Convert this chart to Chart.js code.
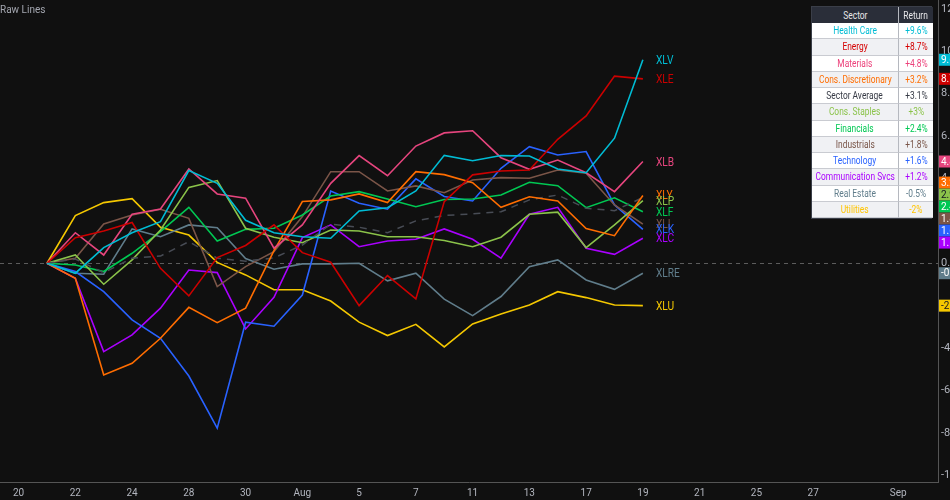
<!DOCTYPE html>
<html>
<head>
<meta charset="utf-8">
<title>Raw Lines</title>
<script src="https://cdn.jsdelivr.net/npm/chart.js@4.4.1/dist/chart.umd.min.js"></script>
<style>
  html, body { margin: 0; padding: 0; background: #101010; }
  #wrap { position: relative; width: 950px; height: 500px; overflow: hidden; background: #101010; }
  #chart { display: block; }
  #title { position: absolute; left: 0; top: 4px; font: 10px Roboto, sans-serif; color: #a3a6af; }
  #sectors {
    position: absolute; left: 811px; top: 6px; width: 121px;
    display: grid; grid-template-columns: 87px 34px; grid-template-rows: 16px repeat(12, 16.25px);
    font: 10px Roboto, sans-serif;
    border: 1px solid #3a3e48; box-sizing: border-box;
  }
  #sectors div { display: flex; align-items: center; justify-content: center; white-space: nowrap;
    border-bottom: 1px solid #c9cbd1; box-sizing: border-box; overflow: visible; }
  #sectors span { display: inline-block; transform: scaleX(0.84); }
  #sectors div.c1 { border-right: 1px solid #b5b8bf; }
  #sectors div.hd { background: #2a2e39; color: #e8e8ea; border-bottom: none; }
  #sectors div.odd { background: #ffffff; }
  #sectors div.even { background: #f0f1f4; }
</style>
</head>
<body>
<div id="wrap">
  <canvas id="chart" width="950" height="500"></canvas>
  <div id="title">Raw Lines</div>
  <div id="sectors"></div>
</div>
<script>
// trading-day index: Jul 20 2020 = 0 ... Aug 19 = 22, Sep 1 = 31
const tickDays = [0, 2, 4, 6, 8, 10, 12, 14, 16, 18, 20, 22, 24, 26, 28, 31];
const tickLabels = ['20', '22', '24', '28', '30', 'Aug', '5', '7', '11', '13', '17', '19', '21', '25', '27', 'Sep'];
const yTicks = [-10, -8, -6, -4, -2, 0, 2, 4, 6, 8, 10, 12];
const firstDay = 1; // Jul 21

// % change since Jul 21, one value per session up to Aug 19
const xlv  = [0, -0.47, 0.74, 1.44, 1.96, 4.37, 3.77, 2.03, 1.44, 1.25, 1.18, 2.47, 2.62, 3.41, 5.09, 4.84, 5.08, 5.06, 4.45, 4.27, 5.90, 9.6];
const xle  = [0, 1.21, 1.52, 1.92, -0.24, -1.54, 0.27, 0.84, 1.81, 0.50, 0.05, -2.0, -0.58, -1.68, 2.91, 4.17, 4.35, 4.40, 5.85, 6.95, 8.83, 8.7];
const xlb  = [0, 1.44, 0.39, 2.31, 2.56, 4.45, 3.27, 3.07, 0.71, 1.81, 3.77, 5.08, 4.13, 5.53, 6.15, 6.25, 4.98, 4.43, 4.87, 4.27, 3.38, 4.8];
const xly  = [0, -0.71, -5.27, -4.72, -3.54, -2.08, -2.80, -2.12, 0.6, 2.91, 2.99, 3.27, 2.86, 4.32, 4.18, 3.80, 2.64, 3.14, 2.94, 1.64, 1.30, 3.2];
const avg  = [0, 0.2, -0.45, 0.24, 0.34, 1.02, 0.24, 0.1, 0.25, 0.86, 1.84, 1.70, 1.44, 2.0, 2.25, 2.33, 2.43, 2.99, 3.22, 2.59, 2.48, 3.1];
const xlp  = [0, 0.39, -0.99, 0.16, 1.57, 3.58, 3.90, 1.65, 1.23, 0.97, 1.57, 1.52, 1.25, 1.25, 1.07, 0.78, 1.23, 2.31, 2.41, 0.74, 1.81, 2.95];
const xlf  = [0, -0.08, -0.39, 0.47, 1.49, 2.64, 1.05, 1.60, 1.65, 2.28, 3.17, 3.38, 3.03, 2.67, 3.01, 3.03, 3.22, 3.82, 3.66, 2.62, 3.09, 2.43];
const xli  = [0, 0.24, 1.85, 2.28, 2.55, 2.12, -1.10, -0.16, 0.55, 2.2, 4.32, 4.32, 3.41, 3.65, 3.33, 3.93, 4.04, 4.01, 4.40, 4.25, 2.75, 1.85];
const xlk  = [0, -0.39, -1.34, -2.67, -3.54, -5.32, -7.78, -2.78, -2.97, -1.50, 3.41, 2.83, 2.55, 3.98, 3.15, 2.94, 4.48, 5.50, 5.11, 5.27, 2.75, 1.6];
const xlc  = [0, -0.71, -4.17, -3.38, -2.12, -0.32, -0.44, -3.10, -1.61, 1.21, 1.81, 0.78, 1.05, 1.13, 1.62, 1.13, 0.24, 2.31, 2.64, 0.71, 0.42, 1.18];
const xlre = [0, -0.47, -0.52, 1.62, 1.25, 1.81, 1.68, 0.22, -0.28, -0.03, -0.03, 0, -0.83, -0.47, -1.69, -2.47, -1.57, -0.16, 0.16, -0.79, -1.23, -0.47];
const xlu  = [0, 2.25, 2.86, 3.05, 1.70, 1.33, 0.04, -0.55, -1.25, -1.25, -1.78, -2.78, -3.41, -2.88, -3.95, -2.86, -2.39, -1.97, -1.34, -1.62, -1.97, -2.0];

// table rows
const sectorNames = ['Health Care', 'Energy', 'Materials', 'Cons. Discretionary', 'Sector Average', 'Cons. Staples',
  'Financials', 'Industrials', 'Technology', 'Communication Svcs', 'Real Estate', 'Utilities'];
const sectorReturns = ['+9.6%', '+8.7%', '+4.8%', '+3.2%', '+3.1%', '+3%', '+2.4%', '+1.8%', '+1.6%', '+1.2%', '-0.5%', '-2%'];

const FONT = 'Roboto, sans-serif';
const COLORS = {
  XLV: '#00bcd4', XLE: '#cc0000', XLB: '#e6457e', XLY: '#ff6d00', AVG: '#484c55', XLP: '#8bc34a',
  XLF: '#00c853', XLI: '#7b5548', XLK: '#2962ff', XLC: '#aa00ff', XLRE: '#607d8b', XLU: '#f5c800'
};
const TABLE_TEXT = ['#00bcd4', '#d50000', '#ec407a', '#ff6d00', '#363a45', '#8bc34a',
  '#00c853', '#795548', '#2962ff', '#aa00ff', '#607d8b', '#ffc400'];

const series = [
  ['XLV', xlv], ['XLE', xle], ['XLB', xlb], ['XLY', xly], ['AVG', avg], ['XLP', xlp],
  ['XLF', xlf], ['XLI', xli], ['XLK', xlk], ['XLC', xlc], ['XLRE', xlre], ['XLU', xlu]
];

// --- table ---
const table = document.getElementById('sectors');
table.innerHTML = '<div class="hd c1"><span>Sector</span></div><div class="hd"><span>Return</span></div>' +
  sectorNames.map((n, i) => {
    const cls = i % 2 ? 'even' : 'odd';
    return `<div class="${cls} c1" style="color:${TABLE_TEXT[i]}"><span>${n}</span></div>` +
           `<div class="${cls}" style="color:${TABLE_TEXT[i]}"><span>${sectorReturns[i]}</span></div>`;
  }).join('');

// --- plugins ---
const zeroLine = {
  id: 'zeroLine',
  beforeDatasetsDraw(chart) {
    const { ctx, chartArea, scales } = chart;
    const y = Math.round(scales.y.getPixelForValue(0)) + 0.5;
    ctx.save();
    ctx.strokeStyle = '#5c5c5c';
    ctx.lineWidth = 1;
    ctx.setLineDash([4, 4]);
    ctx.beginPath();
    ctx.moveTo(chartArea.left, y);
    ctx.lineTo(chartArea.right, y);
    ctx.stroke();
    ctx.restore();
  }
};

// narrow text, the reference uses a condensed face
function narrowText(ctx, text, x, y, sx) {
  ctx.save();
  ctx.translate(x, y);
  ctx.scale(sx, 1);
  ctx.fillText(text, 0, 0);
  ctx.restore();
}

const endLabels = {
  id: 'endLabels',
  afterDatasetsDraw(chart) {
    const { ctx, scales } = chart;
    ctx.save();
    ctx.font = '12px ' + FONT;
    ctx.textBaseline = 'middle';
    chart.data.datasets.forEach(ds => {
      if (ds.label === 'AVG') return;
      const last = ds.data[ds.data.length - 1];
      ctx.fillStyle = ds.borderColor;
      narrowText(ctx, ds.label, scales.x.getPixelForValue(last.x) + 13, scales.y.getPixelForValue(last.y) + 1, 0.85);
    });
    ctx.restore();
  }
};

const priceTags = {
  id: 'priceTags',
  afterDraw(chart) {
    const { ctx, chartArea, scales, width } = chart;
    const h = 12;
    const tags = chart.data.datasets.filter(ds => ds.label !== 'AVG').map(ds => {
      const v = ds.data[ds.data.length - 1].y;
      return { v, color: ds.borderColor, dark: ds.label === 'XLU' || ds.label === 'XLP', y: scales.y.getPixelForValue(v) };
    }).sort((a, b) => a.y - b.y);
    // push overlapping tags apart, keeping each group centred
    const groups = tags.map(t => ({ items: [t], c: t.y }));
    let merged = true;
    while (merged) {
      merged = false;
      for (let i = 0; i < groups.length - 1; i++) {
        const a = groups[i], b = groups[i + 1];
        if (a.c + a.items.length * h / 2 > b.c - b.items.length * h / 2) {
          const items = a.items.concat(b.items);
          const c = items.reduce((s, t) => s + t.y, 0) / items.length;
          groups.splice(i, 2, { items, c });
          merged = true;
          break;
        }
      }
    }
    ctx.save();
    ctx.font = '10px ' + FONT;
    ctx.textBaseline = 'middle';
    groups.forEach(g => {
      const top = g.c - g.items.length * h / 2 - (g.items.length > 1 ? 4 : 0);
      g.items.forEach((t, k) => {
        const y0 = top + k * h;
        ctx.fillStyle = t.color;
        ctx.fillRect(chartArea.right + 1, y0, width - chartArea.right, h);
        ctx.fillStyle = t.dark ? '#131722' : '#ffffff';
        ctx.fillText(t.v.toFixed(2), chartArea.right + 3, y0 + h / 2 + 0.5);
      });
    });
    ctx.restore();
  }
};

const noEdgePadding = s => { s.paddingTop = 0; s.paddingBottom = 0; s.paddingLeft = 0; s.paddingRight = 0; };

// --- chart ---
new Chart(document.getElementById('chart'), {
  type: 'line',
  data: {
    datasets: series.map(([name, values]) => ({
      label: name,
      data: values.map((v, i) => ({ x: firstDay + i, y: v })),
      borderColor: COLORS[name],
      borderWidth: name === 'AVG' ? 1.5 : 1.6,
      borderDash: name === 'AVG' ? [7, 6] : [],
      pointRadius: 0,
      tension: 0,
      fill: false
    }))
  },
  options: {
    responsive: false,
    animation: false,
    devicePixelRatio: 1,
    layout: { padding: 0 },
    plugins: { legend: { display: false }, tooltip: { enabled: false } },
    scales: {
      x: {
        type: 'linear',
        min: -0.655,
        max: 32.4,
        afterBuildTicks: s => { s.ticks = tickDays.map(v => ({ value: v })); },
        afterFit: s => { s.height = 18; noEdgePadding(s); },
        ticks: {
          callback: (v, i) => tickLabels[i],
          color: '#b2b5be', font: { size: 10, family: FONT }, padding: 5,
          maxRotation: 0, autoSkip: false
        },
        grid: { display: false, drawTicks: false },
        border: { display: true, color: '#555555' }
      },
      y: {
        position: 'right',
        min: -10.32,
        max: 12.42,
        afterBuildTicks: s => { s.ticks = yTicks.map(v => ({ value: v })); },
        afterFit: s => { s.width = 12; noEdgePadding(s); },
        ticks: {
          callback: v => v.toFixed(2),
          color: '#b2b5be', font: { size: 11, family: FONT }, padding: 3
        },
        grid: { display: false, drawTicks: false },
        border: { display: true, color: '#555555' }
      }
    }
  },
  plugins: [zeroLine, endLabels, priceTags]
});
</script>
</body>
</html>
